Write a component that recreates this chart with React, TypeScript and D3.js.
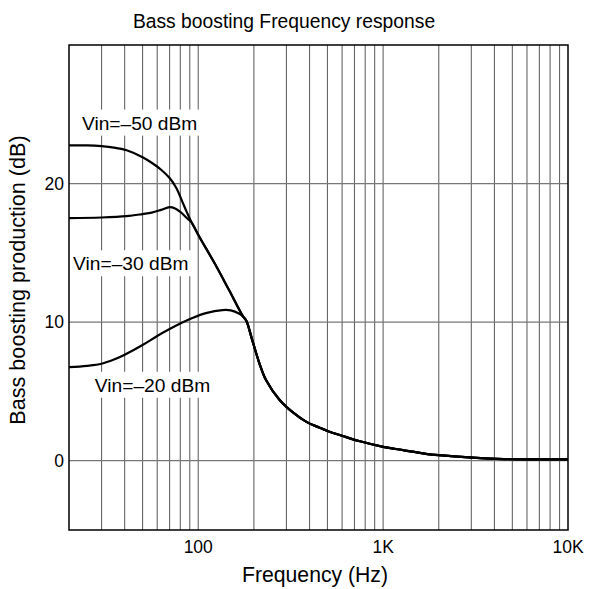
import React from 'react';
import * as d3 from 'd3';

// curve readings (Hz, dB)
const freq50 = [20, 25, 30, 35, 41, 50, 56, 63, 70, 76, 82, 87, 92];
const vals50 = [22.75, 22.75, 22.7, 22.6, 22.4, 21.9, 21.5, 21.0, 20.4, 19.7, 18.7, 17.9, 17.2];

const freq30 = [20, 30, 41, 50, 56, 63, 70, 75, 80, 87, 92];
const vals30 = [17.5, 17.55, 17.65, 17.8, 17.9, 18.1, 18.3, 18.2, 17.95, 17.5, 17.2];

// shared steep slope once the -50 / -30 curves join
const freqMerge = [101, 122, 147, 175];
const valsMerge = [16.2, 14.3, 12.3, 10.4];

const freq20 = [20, 25, 30, 35, 40, 50, 60, 70, 80, 93, 110, 135, 150, 167, 175, 182, 196, 214, 233, 275, 324, 385, 450, 500, 600, 750, 1000, 1300, 1700, 2000, 3200, 4500, 6000, 10000];
const vals20 = [6.75, 6.85, 7.0, 7.3, 7.65, 8.35, 9.0, 9.5, 9.9, 10.3, 10.65, 10.87, 10.85, 10.6, 10.4, 10.1, 8.7, 7.05, 5.8, 4.4, 3.5, 2.8, 2.4, 2.15, 1.8, 1.4, 1.0, 0.75, 0.5, 0.4, 0.2, 0.12, 0.1, 0.1];

const xTicks = [100, 1000, 10000];
const xTickLabels = ['100', '1K', '10K'];
const yTicks = [0, 10, 20];

const labels = [
  { text: 'Vin=\u201350 dBm', f: 23.5, v: 24.4 },
  { text: 'Vin=\u201330 dBm', f: 21.05, v: 14.25 },
  { text: 'Vin=\u201320 dBm', f: 27.6, v: 5.48 },
];

const FONT = '"Liberation Sans", Arial, sans-serif';

export default function App() {
  const width = 590;
  const height = 589;
  const m = { top: 45, right: 22, bottom: 59, left: 69 };
  const iw = width - m.left - m.right;
  const ih = height - m.top - m.bottom;

  const x = d3.scaleLog().domain([20, 10000]).range([0, iw]);
  const y = d3.scaleLinear().domain([-5, 30]).range([ih, 0]);

  const line = d3.line<[number, number]>()
    .curve(d3.curveCatmullRom.alpha(0.5))
    .x(d => x(d[0]))
    .y(d => y(d[1]));

  const zip = (fs: number[], vs: number[]) => fs.map((f, i) => [f, vs[i]] as [number, number]);
  const tail20 = zip(freq20, vals20).filter(d => d[0] >= 182);
  const series = [
    [...zip(freq50, vals50), ...zip(freqMerge, valsMerge), ...tail20],
    [...zip(freq30, vals30), ...zip(freqMerge, valsMerge), ...tail20],
    zip(freq20, vals20),
  ];

  const minor: number[] = [];
  for (let dec = 10; dec < 10000; dec *= 10) {
    for (let k = 1; k <= 9; k++) {
      const f = dec * k;
      if (f > 20 && f < 10000) minor.push(f);
    }
  }

  return (
    <svg width={width} height={height} style={{ position: 'absolute', left: 0, top: 0 }} fontFamily={FONT}>
      <rect width={width} height={height} fill="#fff" />
      <text x={284} y={28} textAnchor="middle" fontSize={19.3}>Bass boosting Frequency response</text>
      <g transform={`translate(${m.left},${m.top})`}>
        {minor.map(f => (
          <line key={f} x1={x(f)} x2={x(f)} y1={0} y2={ih} stroke="#666" strokeWidth={1.1} />
        ))}
        {yTicks.map(t => (
          <line key={t} x1={0} x2={iw} y1={y(t)} y2={y(t)} stroke="#777" strokeWidth={1.3} />
        ))}
        {labels.map(l => {
          const lx = x(l.f);
          const ly = y(l.v);
          const w = 6.031 * 19.2;
          return (
            <g key={l.text}>
              <rect x={lx - 3} y={ly - 13} width={w + 6} height={26} fill="#fff" />
              <text x={lx} y={ly} dy="0.36em" fontSize={19.2}>{l.text}</text>
            </g>
          );
        })}
        {series.map((s, i) => (
          <path key={i} d={line(s) || ''} fill="none" stroke="#000" strokeWidth={2.2} />
        ))}
        <rect x={0} y={0} width={iw} height={ih} fill="none" stroke="#000" strokeWidth={1.5} />
        {yTicks.map(t => (
          <text key={t} x={-5} y={y(t)} dy="0.36em" textAnchor="end" fontSize={17.5}>{t}</text>
        ))}
        {xTicks.map((t, i) => (
          <text key={t} x={x(t)} y={ih + 23} textAnchor="middle" fontSize={17.5}>{xTickLabels[i]}</text>
        ))}
        <text x={iw / 2 - 3.5} y={ih + 52} textAnchor="middle" fontSize={21.2}>Frequency (Hz)</text>
        <text transform={`translate(${-44},${ih / 2 - 7.5}) rotate(-90)`} textAnchor="middle" fontSize={21.6}>Bass boosting production (dB)</text>
      </g>
    </svg>
  );
}
